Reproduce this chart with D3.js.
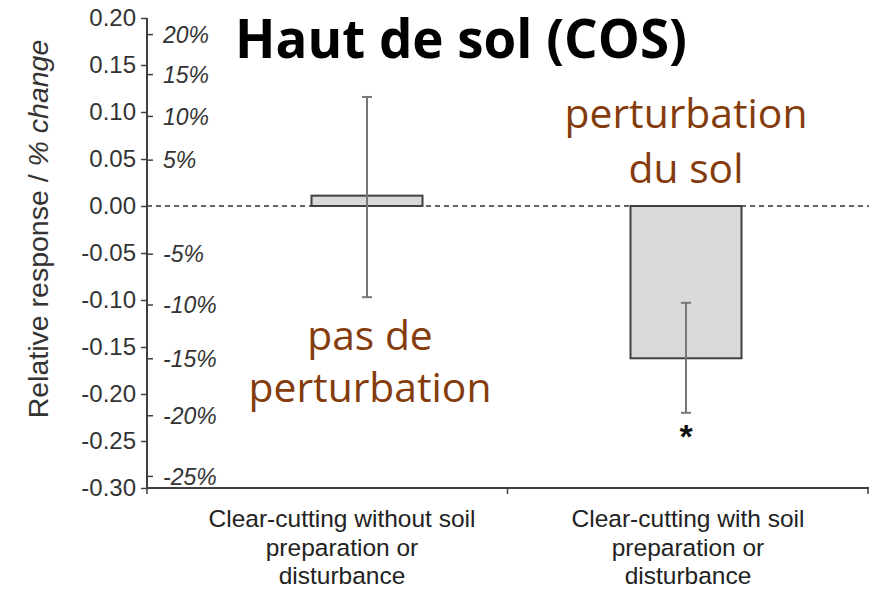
<!DOCTYPE html>
<html><head><meta charset="utf-8">
<script src="https://cdn.jsdelivr.net/npm/d3@7"></script>
<style>body{margin:0;background:#fff}svg{display:block}</style>
</head><body>
<svg id="c" width="869" height="593"></svg>
<script>
const categories = ["Clear-cutting without soil preparation or disturbance", "Clear-cutting with soil preparation or disturbance"];
const categoryLines = [["Clear-cutting without soil","preparation or","disturbance"],["Clear-cutting with soil","preparation or","disturbance"]];
const values = [0.011, -0.162];
const errLow = [-0.097, -0.220];
const errHigh = [0.116, -0.103];
const significant = [false, true];
const yTicks = [0.20,0.15,0.10,0.05,0.00,-0.05,-0.10,-0.15,-0.20,-0.25,-0.30];
const pctTicks = [20,15,10,5,-5,-10,-15,-20,-25];
const title = "Haut de sol (COS)";
const yLabel = "Relative response / ";
const yLabelIt = "% change";
const annotations = [["perturbation","du sol"],["pas de","perturbation"]];

const svg = d3.select("#c");
const axisCol = "#404040";
const y = d3.scaleLinear().domain([-0.30, 0.20]).range([488, 18]);
const xAxisBand = d3.scaleBand().domain(categories).range([147, 868]);
const xBar = d3.scalePoint().domain(categories).range([367, 686]);
const xLab = d3.scalePoint().domain(categories).range([342, 688]);
const barW = 111;

// zero dashed line
svg.append("line").attr("x1",147).attr("x2",869).attr("y1",y(0)).attr("y2",y(0))
  .attr("stroke","#333").attr("stroke-width",1.3).attr("stroke-dasharray","5,4");

// bars
categories.forEach((c,i)=>{
  const v = values[i];
  svg.append("rect").attr("x", xBar(c)-barW/2).attr("width", barW)
    .attr("y", y(Math.max(0,v))).attr("height", Math.abs(y(v)-y(0)))
    .attr("fill","#d9d9d9").attr("stroke",axisCol).attr("stroke-width",2);
  const cx = xBar(c);
  const g = svg.append("g").attr("stroke","#777").attr("stroke-width",2);
  g.append("line").attr("x1",cx).attr("x2",cx).attr("y1",y(errHigh[i])).attr("y2",y(errLow[i]));
  g.append("line").attr("x1",cx-5).attr("x2",cx+5).attr("y1",y(errHigh[i])).attr("y2",y(errHigh[i]));
  g.append("line").attr("x1",cx-5).attr("x2",cx+5).attr("y1",y(errLow[i])).attr("y2",y(errLow[i]));
  if (significant[i]) {
    svg.append("text").attr("x",cx).attr("y",y(errLow[i])+35).attr("text-anchor","middle")
      .attr("font-family","Liberation Sans, Arial").attr("font-weight","bold").attr("font-size",34).attr("fill","#111").text("*");
  }
});

// left axis
const fmt = d => d3.format(".2f")(d).replace("\u2212","-");
const yAxis = d3.axisLeft(y).tickValues(yTicks).tickFormat(fmt).tickSize(6).tickPadding(3);
const ga = svg.append("g").attr("transform","translate(147,0)").call(yAxis);
ga.select(".domain").attr("stroke",axisCol).attr("stroke-width",2).attr("d","M0,18V488");
ga.selectAll(".tick line").attr("stroke",axisCol).attr("stroke-width",1.5);
ga.selectAll(".tick text").attr("font-family","Liberation Sans, Arial").attr("font-size",24).attr("fill","#333")
  .attr("x",-11);

// percent axis (right of line)
const pctY = p => y(Math.log(1 + p/100));
const gp = svg.append("g").attr("transform","translate(147,0)");
pctTicks.forEach(p=>{
  gp.append("line").attr("x1",0).attr("x2",6).attr("y1",pctY(p)).attr("y2",pctY(p)).attr("stroke",axisCol).attr("stroke-width",1.5);
  gp.append("text").attr("x",16).attr("y",pctY(p)).attr("dy","0.36em")
    .attr("font-family","Liberation Sans, Arial").attr("font-style","italic").attr("font-size",23).attr("fill","#333")
    .text(p+"%");
});

// x axis
const gx = svg.append("g").attr("transform","translate(0,488)");
gx.append("line").attr("x1",147).attr("x2",869).attr("y1",0).attr("y2",0).attr("stroke",axisCol).attr("stroke-width",2);
[xAxisBand.range()[0], xAxisBand(categories[1]), xAxisBand.range()[1]].forEach(xx=>{
  gx.append("line").attr("x1",xx).attr("x2",xx).attr("y1",0).attr("y2",6).attr("stroke",axisCol).attr("stroke-width",1.5);
});

// category labels
const labBase = [527, 556, 584];
categories.forEach((c,i)=>{
  const t = svg.append("text").attr("text-anchor","middle").attr("font-family","Liberation Sans, Arial")
    .attr("font-size",24.5).attr("fill","#222");
  categoryLines[i].forEach((l,j)=>{
    t.append("tspan").attr("x",xLab(c)).attr("y",labBase[j]).text(l);
  });
});

// y label
const yl = svg.append("text").attr("transform","translate(48,229) rotate(-90)").attr("text-anchor","middle")
  .attr("font-family","Liberation Sans, Arial").attr("font-size",28.5).attr("fill","#333");
yl.append("tspan").text(yLabel);
yl.append("tspan").attr("font-style","italic").text(yLabelIt);

// title
const tt = svg.append("text").attr("x",461).attr("y",58).attr("text-anchor","middle")
  .attr("font-family","Open Sans, Lato, sans-serif").attr("font-weight","bold").attr("font-size",50).attr("fill","#000").text(title);
const tw = tt.node().getComputedTextLength();
tt.attr("font-size", 50*452/tw);

// annotations
const annCol = "#843c0c";
const annPos = [[686,128,183],[370,350,402]];
const annNodes = [];
annotations.forEach((lines,i)=>{
  lines.forEach((l,j)=>{
    annNodes.push(svg.append("text").attr("x",annPos[i][0]).attr("y",annPos[i][1+j]).attr("text-anchor","middle")
      .attr("font-family","Open Sans, Lato, sans-serif").attr("font-size",40).attr("fill",annCol).text(l));
  });
});
const pw = annNodes[0].node().getComputedTextLength();
annNodes.forEach(n => n.attr("font-size", 40*243/pw));
</script>
</body></html>
